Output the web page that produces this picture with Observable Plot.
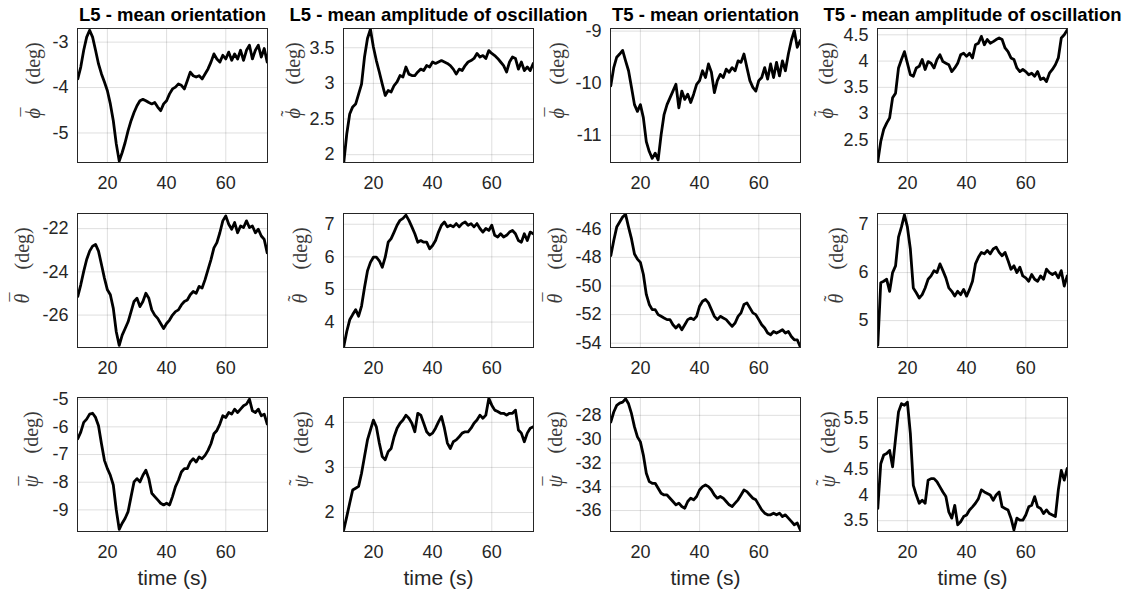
<!DOCTYPE html>
<html>
<head>
<meta charset="utf-8">
<script src="https://cdn.jsdelivr.net/npm/d3@7"></script>
<script src="https://cdn.jsdelivr.net/npm/@observablehq/plot@0.6"></script>
<style>
  html, body { margin: 0; padding: 0; background: #fff; }
  #chart { position: relative; width: 1137px; height: 593px; overflow: hidden; background: #fff; }
</style>
</head>
<body>
<div id="chart"></div>
<script>
// ---------- data ----------
const time = [10,11,12,13,14,15,16,17,18,19,20,21,22,23,24,25,26,27,28,29,30,31,32,33,34,35,36,37,38,39,40,41,42,43,44,45,46,47,48,49,50,51,52,53,54,55,56,57,58,59,60,61,62,63,64,65,66,67,68,69,70,71,72,73,74];

const l5PhiMean = [-3.81,-3.55,-3.18,-2.89,-2.74,-2.89,-3.18,-3.48,-3.70,-3.88,-4.07,-4.36,-4.73,-5.24,-5.62,-5.43,-5.21,-4.95,-4.73,-4.55,-4.40,-4.29,-4.26,-4.29,-4.33,-4.36,-4.33,-4.43,-4.51,-4.36,-4.29,-4.14,-4.03,-3.99,-3.92,-3.95,-4.03,-3.85,-3.66,-3.74,-3.77,-3.74,-3.81,-3.70,-3.59,-3.44,-3.26,-3.37,-3.44,-3.29,-3.37,-3.22,-3.40,-3.26,-3.37,-3.18,-3.40,-3.18,-3.07,-3.37,-3.18,-3.07,-3.33,-3.14,-3.44];
const l5PhiAmp = [1.89,2.29,2.57,2.67,2.71,2.85,2.99,3.37,3.63,3.76,3.51,3.32,3.16,2.99,2.83,2.90,2.88,2.97,3.02,3.11,3.09,3.23,3.13,3.11,3.11,3.16,3.20,3.18,3.25,3.23,3.30,3.28,3.30,3.32,3.30,3.28,3.25,3.20,3.13,3.20,3.18,3.25,3.30,3.32,3.35,3.42,3.37,3.39,3.35,3.46,3.42,3.39,3.35,3.30,3.25,3.16,3.30,3.37,3.35,3.20,3.30,3.18,3.23,3.18,3.28];
const t5PhiMean = [-10.05,-9.70,-9.50,-9.44,-9.37,-9.57,-9.76,-10.08,-10.41,-10.54,-10.41,-10.66,-11.12,-11.31,-11.44,-11.34,-11.47,-10.99,-10.60,-10.41,-10.28,-10.15,-10.02,-10.47,-10.15,-10.31,-10.21,-10.37,-10.21,-10.02,-9.95,-9.76,-9.89,-9.63,-9.79,-10.18,-9.95,-9.83,-9.89,-9.73,-9.79,-9.70,-9.76,-9.57,-9.60,-9.44,-9.70,-9.95,-10.08,-10.15,-9.95,-9.89,-9.70,-9.92,-9.63,-9.89,-9.60,-9.86,-9.57,-9.76,-9.44,-9.18,-8.99,-9.31,-9.18];
const t5PhiAmp = [2.09,2.47,2.70,2.82,2.92,3.30,3.39,3.87,4.03,4.18,3.96,3.74,3.71,3.87,3.90,4.03,3.84,3.99,3.96,3.87,4.03,4.12,3.99,3.96,3.93,3.80,3.87,3.96,4.12,4.15,4.09,4.15,4.06,4.31,4.34,4.47,4.31,4.41,4.34,4.37,4.41,4.44,4.41,4.25,4.18,4.06,4.03,3.87,3.80,3.84,3.80,3.74,3.77,3.71,3.80,3.65,3.68,3.61,3.77,3.84,3.93,4.06,4.44,4.50,4.59];

const l5ThetaMean = [-25.14,-24.60,-23.98,-23.43,-23.04,-22.81,-22.73,-23.04,-23.66,-24.29,-24.83,-25.06,-25.69,-26.77,-27.40,-26.93,-26.62,-26.31,-25.84,-25.37,-25.22,-25.61,-25.37,-24.99,-25.22,-25.76,-26.00,-26.15,-26.39,-26.62,-26.39,-26.23,-26.00,-25.84,-25.76,-25.53,-25.37,-25.30,-25.06,-24.91,-24.99,-24.67,-24.75,-24.36,-23.90,-23.43,-22.89,-22.65,-22.19,-21.64,-21.41,-21.80,-22.03,-21.72,-22.19,-21.88,-21.95,-21.64,-21.95,-21.88,-22.19,-22.03,-22.34,-22.50,-23.12];
const l5ThetaAmp = [3.25,3.71,4.07,4.23,4.38,4.18,4.49,5.06,5.57,5.83,5.99,5.99,5.88,5.68,5.99,6.45,6.56,6.76,6.97,7.12,7.18,7.28,7.12,6.92,6.71,6.45,6.50,6.45,6.45,6.25,6.35,6.50,6.76,6.97,7.07,6.92,6.97,6.92,7.02,6.92,7.02,7.07,6.97,7.02,6.92,7.02,6.87,6.76,6.87,6.81,6.97,6.66,6.61,6.71,6.61,6.66,6.76,6.81,6.71,6.50,6.45,6.71,6.50,6.76,6.71];
const t5ThetaMean = [-47.88,-46.82,-45.88,-45.53,-45.18,-44.99,-45.88,-46.71,-47.76,-48.12,-48.35,-49.18,-50.59,-51.29,-51.65,-51.65,-52.00,-52.12,-52.24,-52.35,-52.35,-52.71,-52.94,-52.71,-53.06,-52.71,-52.35,-52.24,-52.35,-52.12,-51.41,-51.06,-50.94,-51.18,-51.65,-52.12,-52.35,-52.12,-52.24,-52.35,-52.59,-52.82,-52.59,-52.12,-51.88,-51.29,-51.18,-51.53,-51.88,-52.00,-52.35,-52.71,-52.94,-53.29,-53.41,-53.18,-53.29,-53.18,-53.06,-53.29,-53.18,-53.53,-53.76,-53.76,-54.24];
const t5ThetaAmp = [4.49,5.79,5.82,5.86,5.61,6.00,6.14,6.74,6.95,7.20,6.95,6.49,5.68,5.58,5.47,5.54,5.68,5.86,5.93,6.04,6.00,6.18,6.04,5.89,5.68,5.61,5.51,5.61,5.54,5.65,5.51,5.65,5.82,6.18,6.32,6.42,6.39,6.46,6.39,6.49,6.53,6.42,6.35,6.42,6.25,6.07,6.14,6.00,6.11,5.93,5.89,5.82,5.96,5.86,5.82,5.93,5.86,6.07,6.00,5.96,6.00,5.89,6.04,5.72,5.93];

const l5PsiMean = [-6.43,-6.19,-5.84,-5.72,-5.54,-5.51,-5.66,-5.96,-6.61,-7.21,-7.51,-7.75,-8.10,-9.00,-9.70,-9.48,-9.30,-9.06,-8.52,-7.99,-7.87,-7.99,-7.75,-7.57,-7.87,-8.40,-8.52,-8.64,-8.76,-8.82,-8.76,-8.82,-8.52,-8.16,-7.93,-7.63,-7.51,-7.51,-7.27,-7.15,-7.27,-7.09,-7.15,-7.03,-6.85,-6.61,-6.25,-6.13,-5.90,-5.60,-5.66,-5.48,-5.54,-5.36,-5.48,-5.36,-5.24,-5.18,-5.00,-5.42,-5.48,-5.36,-5.60,-5.54,-5.90];
const l5PsiAmp = [1.62,1.91,2.21,2.50,2.54,2.58,2.87,3.24,3.61,3.83,4.05,3.90,3.54,3.24,3.17,3.35,3.42,3.68,3.87,3.98,4.05,4.16,4.09,3.98,3.79,4.20,4.16,3.98,3.79,3.72,3.76,3.87,4.01,4.13,3.87,3.54,3.42,3.57,3.61,3.68,3.76,3.79,3.79,3.87,3.98,4.05,4.16,4.09,4.16,4.53,4.38,4.27,4.24,4.20,4.20,4.16,4.20,4.20,4.27,3.83,3.76,3.57,3.76,3.87,3.90];
const t5PsiMean = [-28.56,-27.72,-27.16,-26.97,-26.89,-26.61,-27.03,-27.86,-28.97,-29.81,-30.23,-31.34,-32.87,-33.57,-33.71,-33.71,-34.13,-34.55,-34.69,-34.69,-34.96,-35.24,-35.52,-35.38,-35.66,-35.80,-35.24,-34.96,-35.10,-34.82,-34.27,-33.99,-33.85,-33.99,-34.27,-34.69,-34.96,-34.82,-34.96,-35.24,-35.52,-35.66,-35.38,-35.10,-34.69,-34.27,-34.41,-34.69,-34.96,-35.10,-35.52,-35.94,-36.22,-36.36,-36.36,-36.22,-36.36,-36.22,-36.50,-36.36,-36.64,-36.91,-37.19,-37.05,-37.61];
const t5PsiAmp = [3.74,4.61,4.78,4.81,4.87,4.55,5.10,5.62,5.78,5.75,5.81,5.20,4.19,4.00,3.84,3.90,3.84,4.29,4.32,4.32,4.26,4.16,4.06,3.97,3.67,3.55,3.80,3.42,3.48,3.58,3.61,3.71,3.77,3.84,3.93,4.10,4.06,4.03,4.00,3.90,4.00,4.06,3.77,3.74,3.71,3.55,3.32,3.55,3.51,3.51,3.61,3.77,3.80,3.97,3.77,3.74,3.64,3.71,3.64,3.61,3.58,4.10,4.48,4.29,4.52];

const columnTitles = ["L5 - mean orientation", "L5 - mean amplitude of oscillation", "T5 - mean orientation", "T5 - mean amplitude of oscillation"];
const rowSymbols = ["\u03D5", "\u03B8", "\u03C8"];        // phi, theta, psi
const columnAccents = ["\u00AF", "\u02DC", "\u00AF", "\u02DC"]; // bar, tilde
const unitLabel = "(deg)";
const xLabel = "time (s)";
const xLimits = [9.9, 74.1];
const xTicks = [20, 40, 60];

const seriesGrid = [
  [l5PhiMean, l5PhiAmp, t5PhiMean, t5PhiAmp],
  [l5ThetaMean, l5ThetaAmp, t5ThetaMean, t5ThetaAmp],
  [l5PsiMean, l5PsiAmp, t5PsiMean, t5PsiAmp]
];
const yLimitsGrid = [
  [[-5.65, -2.7], [1.89, 3.77], [-11.52, -8.95], [2.07, 4.62]],
  [[-27.5, -21.3], [3.22, 7.33], [-54.3, -44.93], [4.44, 7.23]],
  [[-9.78, -4.94], [1.58, 4.55], [-37.76, -26.5], [3.29, 5.9]]
];
const yTicksGrid = [
  [[-5, -4, -3], [2, 2.5, 3, 3.5], [-11, -10, -9], [2.5, 3, 3.5, 4, 4.5]],
  [[-26, -24, -22], [4, 5, 6, 7], [-54, -52, -50, -48, -46], [5, 6, 7]],
  [[-9, -8, -7, -6, -5], [2, 3, 4], [-36, -34, -32, -30, -28], [3.5, 4, 4.5, 5, 5.5]]
];

// ---------- layout ----------
const frameLeft = [77, 343, 610, 877];
const frameTop = [28, 213, 397];
const frameW = 190, frameH = 134;
const mL = 75, mR = 10, mT = 30, mB = 62;
const labelDx = [
  [-44, -50, -53, -51],
  [-55, -43, -55, -41],
  [-46, -42, -55, -49]
];
const ink = "#262626";
const labelInk = "#3a3a3a";
const serif = "'Liberation Serif', 'DejaVu Serif', serif";
const fmt = d => String(d);

const chart = document.getElementById("chart");

for (let r = 0; r < 3; r++) {
  for (let c = 0; c < 4; c++) {
    const values = seriesGrid[r][c];
    const table = time.map((t, i) => ({t, v: values[i]}));
    const yTicks = yTicksGrid[r][c];
    const ldx = labelDx[r][c];
    const marks = [
      Plot.gridX(xTicks, {stroke: ink, strokeOpacity: 0.15, strokeWidth: 1}),
      Plot.gridY(yTicks, {stroke: ink, strokeOpacity: 0.15, strokeWidth: 1}),
      Plot.line(table, {x: "t", y: "v", stroke: "#000", strokeWidth: 2.8, clip: true}),
      Plot.frame({stroke: ink, strokeWidth: 1}),
      Plot.axisX(xTicks, {tickSize: 0, tickPadding: 14, tickFormat: fmt, label: null, fontSize: 18, fill: ink}),
      Plot.axisY(yTicks, {tickSize: 0, tickPadding: 9, tickFormat: fmt, label: null, fontSize: 18, fill: ink}),
      // y label: symbol, accent above it, then unit
      Plot.text([rowSymbols[r]], {
        text: d => d, frameAnchor: "left", rotate: -90, dx: ldx, dy: 23,
        fontFamily: serif, fontStyle: "italic", fontSize: 20, fill: labelInk
      }),
      Plot.text([columnAccents[c]], {
        text: d => d, frameAnchor: "left", rotate: -90, dx: ldx - 5, dy: 21,
        fontFamily: serif, fontSize: 18, fill: labelInk
      }),
      Plot.text([unitLabel], {
        text: d => d, frameAnchor: "left", rotate: -90, dx: ldx, dy: -11,
        fontFamily: serif, fontSize: 20, fill: labelInk
      })
    ];
    if (r === 0) {
      marks.push(Plot.text([columnTitles[c]], {
        text: d => d, frameAnchor: "top", dy: -8, lineAnchor: "bottom",
        fontWeight: "bold", fontSize: 18.5, fill: "#000"
      }));
    }
    if (r === 2) {
      marks.push(Plot.text([xLabel], {
        text: d => d, frameAnchor: "bottom", dy: 47, lineAnchor: "middle",
        fontSize: 21, fill: ink
      }));
    }
    const svg = Plot.plot({
      width: mL + frameW + mR,
      height: mT + frameH + mB,
      marginLeft: mL, marginRight: mR, marginTop: mT, marginBottom: mB,
      style: {
        position: "absolute",
        left: (frameLeft[c] - mL) + "px",
        top: (frameTop[r] - mT) + "px",
        overflow: "visible",
        background: "transparent",
        fontFamily: "'Liberation Sans', Arial, sans-serif",
        fontSize: "18px",
        color: ink,
        maxWidth: "none"
      },
      x: {domain: xLimits},
      y: {domain: yLimitsGrid[r][c]},
      marks
    });
    chart.appendChild(svg);
  }
}
</script>
</body>
</html>
